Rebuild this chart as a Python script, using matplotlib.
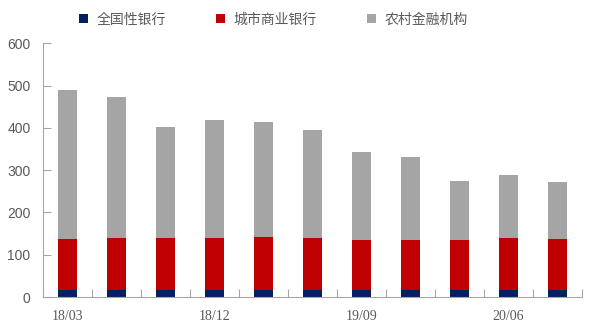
import matplotlib
matplotlib.use("Agg")
import matplotlib.pyplot as plt
import numpy as np

categories = ["18/03", "18/06", "18/09", "18/12", "19/03", "19/06", "19/09",
              "19/12", "20/03", "20/06", "20/09"]
national = [17, 17, 17, 17, 17, 17, 17, 17, 17, 17, 17]
city_top = [137, 140, 140, 140, 142, 140, 135, 135, 135, 140, 137]
total = [489, 473, 402, 418, 414, 395, 343, 331, 274, 288, 272]
city = [c - n for c, n in zip(city_top, national)]
rural = [t - c for t, c in zip(total, city_top)]
series_names = ["全国性银行", "城市商业银行", "农村金融机构"]
colors = ["#002060", "#C00000", "#A5A5A5"]
yticks = [0, 100, 200, 300, 400, 500, 600]

fig = plt.figure(figsize=(5.97, 3.31), dpi=100)
ax = fig.add_axes([0.072, 0.1027, 0.903, 0.7663])

x = np.arange(len(categories))
w = 0.39
b1 = ax.bar(x, national, w, color=colors[0], label=series_names[0])
b2 = ax.bar(x, city, w, bottom=national, color=colors[1], label=series_names[1])
b3 = ax.bar(x, rural, w, bottom=city_top, color=colors[2], label=series_names[2])

ax.set_xlim(-0.5, len(categories) - 0.5)
ax.set_ylim(0, 600)
ax.set_yticks(yticks)
ax.set_yticklabels([str(v) for v in yticks], fontfamily="Liberation Sans",
                   fontsize=10, color="#595959")
ax.set_xticks(np.arange(-0.5, len(categories) + 0.5, 1.0))
ax.set_xticklabels([])
for i in range(0, len(categories), 3):
    ax.text(i, -0.05, categories[i], transform=ax.get_xaxis_transform(),
            ha="center", va="top", fontfamily="Liberation Serif",
            fontsize=10, color="#595959")

for s in ["top", "right"]:
    ax.spines[s].set_visible(False)
for s in ["left", "bottom"]:
    ax.spines[s].set_color("#A6A6A6")
ax.tick_params(axis="both", direction="in", length=6, color="#A6A6A6")
ax.tick_params(axis="y", pad=9)

leg = fig.legend(handles=[b1, b2, b3], labels=series_names, loc="upper center",
                 bbox_to_anchor=(0.458, 1.0), ncol=3, frameon=False,
                 prop={"family": ["Noto Sans CJK SC", "DejaVu Sans"], "size": 10},
                 handlelength=0.65, handleheight=0.65, handletextpad=0.6,
                 columnspacing=3.6, labelcolor="#595959")

fig.savefig("out.png", dpi=100)
